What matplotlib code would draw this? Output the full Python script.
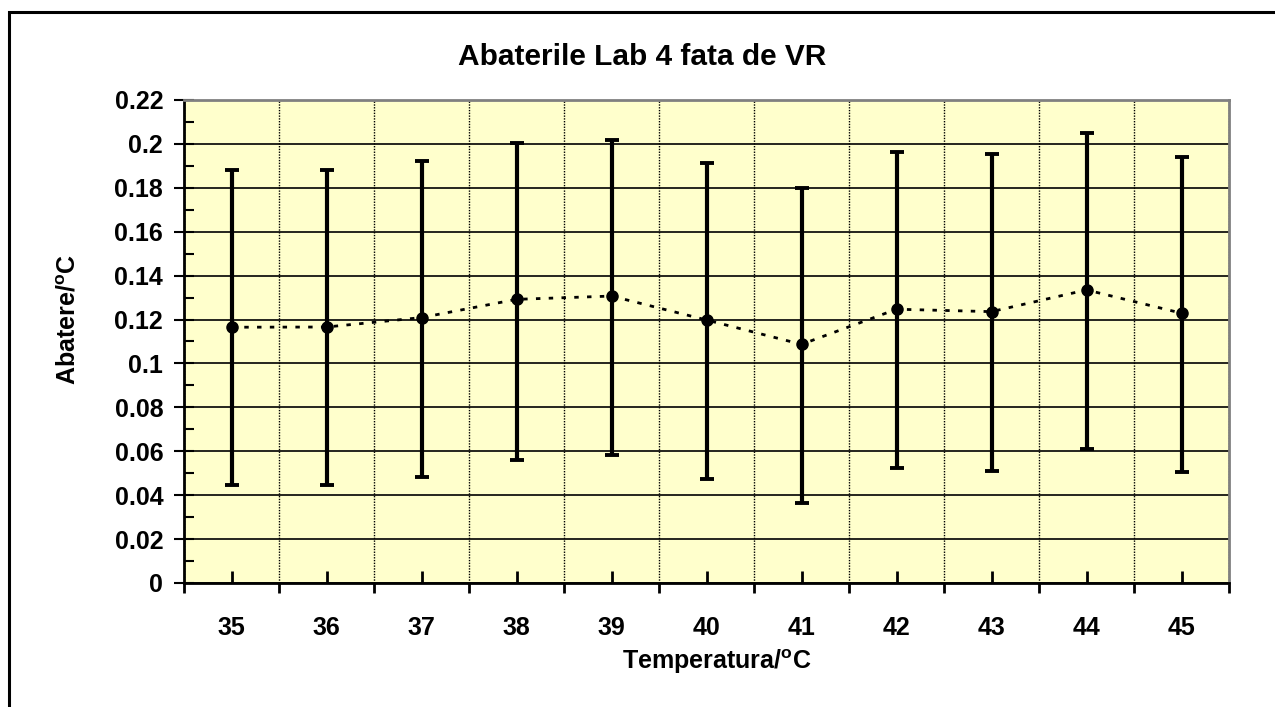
import matplotlib.pyplot as plt
import numpy as np
from matplotlib.patches import Rectangle
from matplotlib.ticker import MultipleLocator, FixedLocator

plt.rcParams["font.family"] = ["Liberation Sans", "DejaVu Sans"]
plt.rcParams["font.weight"] = "bold"
plt.rcParams["mathtext.fontset"] = "custom"
plt.rcParams["mathtext.rm"] = "Liberation Sans:bold"
plt.rcParams["mathtext.bf"] = "Liberation Sans:bold"

temperatures = [35, 36, 37, 38, 39, 40, 41, 42, 43, 44, 45]
deviation = [0.1165, 0.1166, 0.1209, 0.1292, 0.1307, 0.1198, 0.1087, 0.1247, 0.1236, 0.1335, 0.1229]
lower = [0.0446, 0.0446, 0.0481, 0.0562, 0.0585, 0.0474, 0.0366, 0.0525, 0.0512, 0.0612, 0.0504]
upper = [0.1882, 0.1882, 0.1924, 0.2006, 0.2020, 0.1912, 0.1801, 0.1962, 0.1954, 0.2050, 0.1941]

title = "Abaterile Lab 4 fata de VR"
xlabel = r"Temperatura/$^{\mathbf{o}}$C"
ylabel = r"Abatere/$^{\mathbf{o}}$C"


def main():
    fig = plt.figure(figsize=(12.75, 7.07), dpi=100)
    fig.patches.append(Rectangle((9 / 1275, -0.1), 1.2, 1.1 - 12 / 707,
                                 transform=fig.transFigure, fill=False,
                                 edgecolor="black", linewidth=2.2))

    ax = fig.add_axes([184 / 1275, 1 - 583 / 707, 1045 / 1275, 483 / 707])
    ax.set_facecolor("#FFFFCC")

    x = np.arange(len(temperatures))
    mean = np.array(deviation)
    yerr = [mean - np.array(lower), np.array(upper) - mean]

    ax.errorbar(x, mean, yerr=yerr, fmt="none", ecolor="black", elinewidth=3,
                capsize=4.8, capthick=2.8, zorder=3)
    ax.plot(x, mean, color="black", linewidth=2, dashes=(1.6, 3), zorder=4)
    ax.plot(x, mean, "o", color="black", markersize=8, zorder=5)

    ax.set_xlim(-0.5, len(temperatures) - 0.5)
    ax.set_ylim(0, 0.22)

    ax.xaxis.set_major_locator(FixedLocator(x))
    ax.set_xticks(x)
    ax.set_xticklabels([str(t) for t in temperatures])
    ax.xaxis.set_minor_locator(FixedLocator(np.arange(-0.5, len(temperatures), 1.0)))
    ax.tick_params(axis="x", which="major", direction="in", length=9, width=2,
                   pad=24, labelsize=18)
    ax.tick_params(axis="x", which="minor", direction="out", length=7, width=2)

    ax.yaxis.set_major_locator(MultipleLocator(0.02))
    ax.yaxis.set_minor_locator(MultipleLocator(0.01))
    ax.set_yticks(np.arange(0, 0.2201, 0.02))
    ax.set_yticklabels(["0"] + [f"{v:g}" for v in np.arange(0.02, 0.2201, 0.02).round(2)])
    ax.tick_params(axis="y", which="major", direction="inout", length=14, width=1.5,
                   pad=8, labelsize=18)
    ax.tick_params(axis="y", which="minor", direction="in", length=7, width=1.5)

    ax.grid(axis="y", which="major", color="black", linewidth=1.2, linestyle="-")
    ax.grid(axis="x", which="minor", color="black", linewidth=1, linestyle=(0, (1, 1)))
    ax.set_axisbelow(True)

    for side in ("left", "bottom"):
        ax.spines[side].set_color("black")
        ax.spines[side].set_linewidth(2)
    for side in ("top", "right"):
        ax.spines[side].set_color("#808080")
        ax.spines[side].set_linewidth(2)

    fig.text(642 / 1275, 1 - 57 / 707, title, ha="center", va="center",
             fontsize=21.5, fontweight="bold")
    fig.text(717 / 1275, 1 - 662 / 707, xlabel, ha="center", va="center",
             fontsize=18, fontweight="bold")
    fig.text(69 / 1275, 1 - 320 / 707, ylabel, ha="center", va="center",
             rotation=90, fontsize=18, fontweight="bold")

    fig.savefig("out.png", dpi=100)
    plt.close(fig)


if __name__ == "__main__":
    main()
